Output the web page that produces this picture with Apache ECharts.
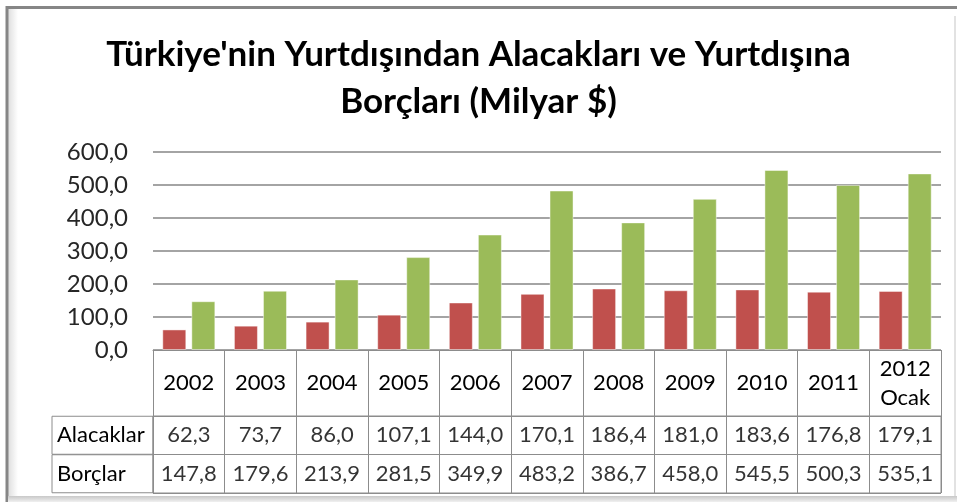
<!DOCTYPE html>
<html>
<head>
<meta charset="utf-8">
<script src="https://cdn.jsdelivr.net/npm/echarts@6/dist/echarts.min.js"></script>
<style>
  html, body { margin: 0; padding: 0; background: #fff; }
  #chart { width: 957px; height: 502px; }
</style>
</head>
<body>
<div id="chart"></div>
<script>
  // veriler
  var years = ['2002', '2003', '2004', '2005', '2006', '2007', '2008', '2009', '2010', '2011', '2012\nOcak'];
  var alacaklar = [62.3, 73.7, 86.0, 107.1, 144.0, 170.1, 186.4, 181.0, 183.6, 176.8, 179.1];
  var borclar = [147.8, 179.6, 213.9, 281.5, 349.9, 483.2, 386.7, 458.0, 545.5, 500.3, 535.1];
  var rowNames = ['Alacaklar', 'Borçlar'];
  var yTicks = [0, 100, 200, 300, 400, 500, 600];

  var FONT = 'Lato, "Noto Sans", sans-serif';
  var LINE = '#8c8c8c';

  function fmt (v) {
    return v.toFixed(1).replace('.', ',');
  }

  // tablo hücreleri
  var tableCells = [];
  alacaklar.forEach(function (v, i) { tableCells.push([i, 0, v]); });
  borclar.forEach(function (v, i) { tableCells.push([i, 1, v]); });

  var chart = echarts.init(document.getElementById('chart'));

  var option = {
    backgroundColor: '#fff',
    animation: false,
    title: {
      text: "Türkiye'nin Yurtdışından Alacakları ve Yurtdışına\nBorçları (Milyar $)",
      left: 'center',
      top: 26,
      textStyle: {
        fontFamily: FONT,
        fontSize: 35,
        fontWeight: 'bold',
        color: '#000',
        lineHeight: 47
      }
    },
    grid: [
      { left: 153, right: 16, top: 152, height: 198 },
      { left: 153, right: 16, top: 416, height: 77, show: true, borderColor: LINE, borderWidth: 1 }
    ],
    xAxis: [
      {
        type: 'category',
        gridIndex: 0,
        data: years,
        axisLine: { show: true, lineStyle: { color: LINE, width: 1 } },
        axisTick: { show: true, interval: 0, length: 66, lineStyle: { color: LINE, width: 1 } },
        axisLabel: {
          margin: 33,
          verticalAlign: 'middle',
          fontFamily: FONT,
          fontSize: 22,
          lineHeight: 29,
          color: '#000',
          interval: 0
        }
      },
      {
        type: 'category',
        gridIndex: 1,
        data: years,
        axisLine: { show: false },
        axisTick: { show: false },
        axisLabel: { show: false },
        splitLine: { show: true, interval: 0, lineStyle: { color: LINE, width: 1 } }
      }
    ],
    yAxis: [
      {
        type: 'value',
        gridIndex: 0,
        min: 0,
        max: 600,
        interval: 100,
        axisLine: { show: false },
        axisTick: { show: false },
        splitLine: { lineStyle: { color: '#868686', width: 1.5 } },
        axisLabel: {
          margin: 25,
          fontFamily: FONT,
          fontSize: 24,
          color: '#262626',
          formatter: function (v) { return yTicks.indexOf(v) >= 0 ? fmt(v) : ''; }
        }
      },
      {
        type: 'category',
        gridIndex: 1,
        data: rowNames,
        inverse: true,
        axisLine: { show: false },
        axisTick: { show: false },
        splitLine: { show: true, interval: 0, lineStyle: { color: LINE, width: 1 } },
        axisLabel: {
          interval: 0,
          hideOverlap: false,
          align: 'left',
          margin: 101,
          width: 96,
          height: 38,
          lineHeight: 38,
          padding: [0, 0, 0, 5],
          borderColor: LINE,
          borderWidth: 1,
          fontFamily: FONT,
          fontSize: 22,
          color: '#000'
        }
      }
    ],
    series: [
      {
        name: 'Alacaklar',
        type: 'bar',
        xAxisIndex: 0,
        yAxisIndex: 0,
        data: alacaklar,
        barWidth: 24,
        barGap: '21%',
        itemStyle: { color: '#C0504D', borderColor: 'rgba(255,255,255,0.45)', borderWidth: 1 }
      },
      {
        name: 'Borçlar',
        type: 'bar',
        xAxisIndex: 0,
        yAxisIndex: 0,
        data: borclar,
        barWidth: 24,
        itemStyle: { color: '#9BBB59', borderColor: 'rgba(255,255,255,0.45)', borderWidth: 1 }
      },
      {
        name: 'tablo',
        type: 'scatter',
        xAxisIndex: 1,
        yAxisIndex: 1,
        data: tableCells,
        symbolSize: 1,
        itemStyle: { color: 'rgba(0,0,0,0)' },
        label: {
          show: true,
          position: 'inside',
          fontFamily: FONT,
          fontSize: 22,
          color: '#000',
          formatter: function (p) { return fmt(p.value[2]); }
        }
      }
    ],
    graphic: [
      // çerçeve
      {
        type: 'rect',
        shape: { x: 8, y: 9, width: 10, height: 488 },
        style: {
          fill: new echarts.graphic.LinearGradient(0, 0, 1, 0, [
            { offset: 0, color: 'rgba(0,0,0,0.13)' },
            { offset: 1, color: 'rgba(0,0,0,0)' }
          ])
        },
        silent: true
      },
      {
        type: 'polyline',
        shape: { points: [[7, 502], [7, 7.5], [957, 7.5]] },
        style: { stroke: '#868686', lineWidth: 3, fill: null },
        silent: true
      },
      {
        type: 'line',
        shape: { x1: 955, y1: 16, x2: 955, y2: 496 },
        style: { stroke: '#e2e2e2', lineWidth: 2 },
        silent: true
      },
      {
        type: 'rect',
        shape: { x: 8, y: 496, width: 949, height: 6 },
        style: {
          fill: new echarts.graphic.LinearGradient(0, 0, 0, 1, [
            { offset: 0, color: '#c8c8c8' },
            { offset: 1, color: '#f0f0f0' }
          ])
        },
        silent: true
      }
    ]
  };

  chart.setOption(option);
</script>
</body>
</html>
